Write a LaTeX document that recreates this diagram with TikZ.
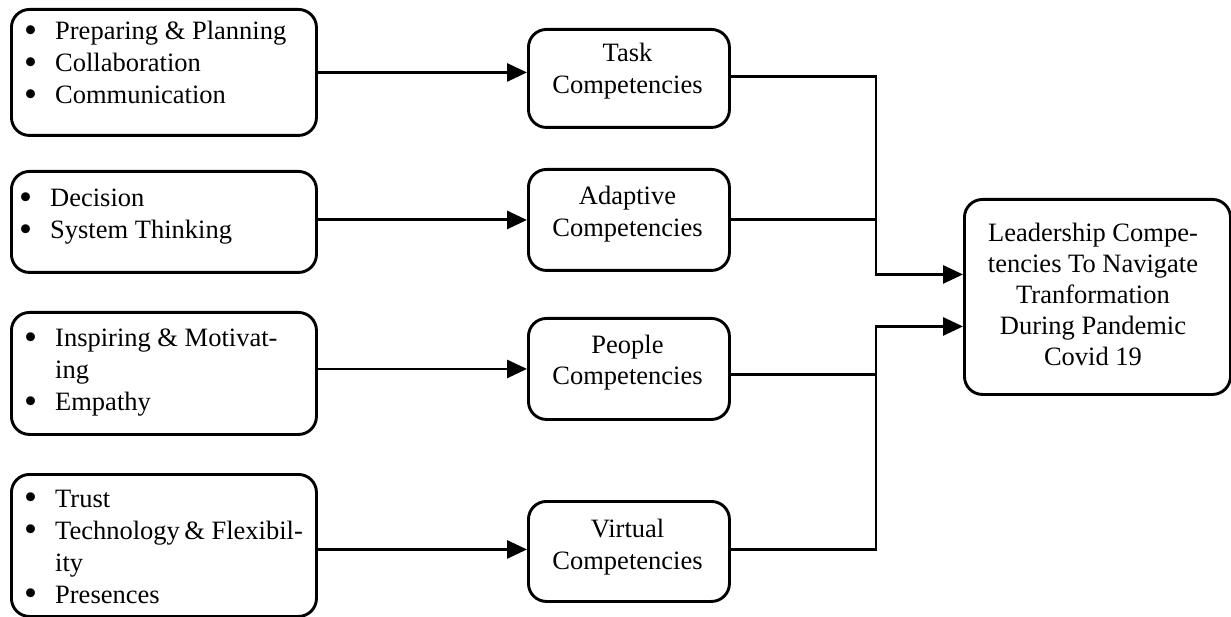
\documentclass[tikz,border=0pt]{standalone}
\usepackage{fontspec}
\usepackage{graphicx}
\setmainfont{Liberation Serif}
\usetikzlibrary{arrows.meta}
\newcommand\mybul{\smash{\raisebox{-2.5pt}{\scalebox{1.4}{\textbullet}}}}
\begin{document}
\begin{tikzpicture}[x=1pt,y=-1pt,
  box/.style={draw,line width=2.9pt,rounded corners=18pt,inner sep=0pt,anchor=north west},
  txt/.style={inner sep=0pt,font=\fontsize{26.5}{32}\selectfont},
  conn/.style={line width=2.9pt},
  arr/.style={conn,-{Triangle[length=20pt,width=18pt]}}]
\useasboundingbox (0,0) rectangle (1231,617);

% left boxes
\node[box,minimum width=305pt,minimum height=126pt] (l1) at (10,8) {};
\node[box,minimum width=305pt,minimum height=101pt] (l2) at (10,170) {};
\node[box,minimum width=305pt,minimum height=122pt] (l3) at (10,311) {};
\node[box,minimum width=305pt,minimum height=142pt] (l4) at (10,473) {};

% middle boxes
\node[box,minimum width=201pt,minimum height=98pt] (task) at (527,28) {};
\node[box,minimum width=201pt,minimum height=101pt] (adaptive) at (527,168) {};
\node[box,minimum width=201pt,minimum height=101pt] (people) at (527,317) {};
\node[box,minimum width=201pt,minimum height=100pt] (virtual) at (527,500) {};

% right box
\node[box,minimum width=266pt,minimum height=195pt] (lead) at (963,198) {};

% texts
\node[txt,anchor=base west] (t1) at (24,40) {\begin{tabular}[t]{@{}l@{\hspace{18pt}}l@{}}\mybul & Preparing \& Planning\\ \mybul & Collaboration\\ \mybul & Communication\end{tabular}};
\node[txt,anchor=base west] (t2) at (19,207) {\begin{tabular}[t]{@{}l@{\hspace{18pt}}l@{}}\mybul & Decision\\ \mybul & System Thinking\end{tabular}};
\node[txt,anchor=base west] (t3) at (24,347) {\begin{tabular}[t]{@{}l@{\hspace{18pt}}l@{}}\mybul & Inspiring \& Motivat-\\ & ing\\ \mybul & Empathy\end{tabular}};
\node[txt,anchor=base west] (t4) at (24,507) {\begin{tabular}[t]{@{}l@{\hspace{18pt}}l@{}}\mybul & Trust\\ \mybul & Technology\,\& Flexibil-\\ & ity\\ \mybul & Presences\end{tabular}};

\node[txt,anchor=base] (tt) at (627.5,62) {\begin{tabular}[t]{@{}c@{}}Task\\ Competencies\end{tabular}};
\node[txt,anchor=base] (ta) at (627.5,205) {\begin{tabular}[t]{@{}c@{}}Adaptive\\ Competencies\end{tabular}};
\node[txt,anchor=base] (tp) at (627.5,353) {\begin{tabular}[t]{@{}c@{}}People\\ Competencies\end{tabular}};
\node[txt,anchor=base] (tv) at (627.5,537) {\begin{tabular}[t]{@{}c@{}}Virtual\\ Competencies\end{tabular}};

\node[txt,anchor=base,font=\fontsize{26.5}{31}\selectfont] (tl) at (1093,242) {\begin{tabular}[t]{@{}c@{}}Leadership Compe-\\ tencies To Navigate\\ Tranformation\\ During Pandemic\\ Covid 19\end{tabular}};

% connectors
\coordinate (jx) at (876,0);
\draw[arr] (l1.east) -- (l1.east -| task.west);
\draw[arr] (adaptive.west -| l2.east) -- (adaptive.west);
\draw[arr] (people.west -| l3.east) -- (people.west);
\draw[arr] ([yshift=2pt]virtual.west -| l4.east) -- ([yshift=2pt]virtual.west);

\draw[arr] ([yshift=2pt]task.east) -| ([yshift=22.5pt]lead.west -| jx) -- ([yshift=22.5pt]lead.west);
\draw[conn] (adaptive.east) -- (adaptive.east -| jx);
\draw[arr] ([yshift=2pt]virtual.east) -| ([yshift=-29.5pt]lead.west -| jx) -- ([yshift=-29.5pt]lead.west);
\draw[conn] ([yshift=-5.5pt]people.east) -- ([yshift=-5.5pt]people.east -| jx);
\end{tikzpicture}
\end{document}
